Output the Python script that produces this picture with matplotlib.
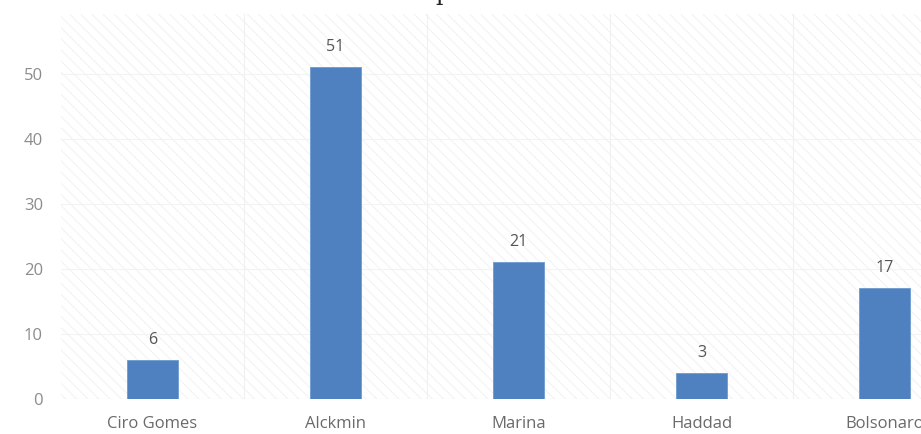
import matplotlib.pyplot as plt

plt.rcParams['hatch.linewidth'] = 0.8
plt.rcParams['hatch.color'] = '#f3f3f3'

candidates = ['Ciro Gomes', 'Alckmin', 'Marina', 'Haddad', 'Bolsonaro']
heights = [6, 51, 21, 4, 17]
value_labels = ['6', '51', '21', '3', '17']
y_ticks = [0, 10, 20, 30, 40, 50]

fig = plt.figure(figsize=(9.21, 4.34), dpi=100, facecolor='white')
ax = fig.add_axes([61 / 921, 35 / 434, 915 / 921, 385 / 434])

# excel-like striped background
ax.patch.set_facecolor('white')
ax.patch.set_hatch('\\\\\\')
ax.patch.set_edgecolor('#f3f3f3')

x = list(range(len(candidates)))
bars = ax.bar(x, heights, width=0.28, color='#4f80c0', edgecolor='#6f9ad0',
              linewidth=0.6, zorder=3)

for bar, lab in zip(bars, value_labels):
    ax.text(bar.get_x() + bar.get_width() / 2, bar.get_height() + 1.9, lab,
            ha='center', va='bottom', fontsize=11.5, color='#555555',
            family='Open Sans', zorder=4)

ax.set_xlim(-0.5, len(candidates) - 0.5)
ax.set_ylim(0, 59.2)
ax.set_yticks(y_ticks)
ax.set_xticks(x)
ax.set_xticklabels(candidates, fontsize=12, color='#6a6a6a', family='Open Sans')
ax.set_yticklabels([str(t) for t in y_ticks], fontsize=12, color='#8c8c8c',
                   family='Open Sans')
ax.tick_params(axis='both', length=0)
ax.tick_params(axis='y', pad=13)
ax.tick_params(axis='x', pad=12)

ax.set_xticks([i + 0.5 for i in x[:-1]], minor=True)
ax.tick_params(axis='x', which='minor', length=0)
ax.grid(axis='y', which='major', color='#f3f3f3', linewidth=0.8, zorder=1)
ax.grid(axis='x', which='minor', color='#f0f0f0', linewidth=0.8, zorder=1)
ax.grid(axis='x', which='major', visible=False)
ax.axhline(0, color='#eeeeee', linewidth=0.8, zorder=2)
for s in ax.spines.values():
    s.set_visible(False)

# top of the (cropped) title
fig.text(443 / 921, 1.0, 'p', ha='center', va='baseline', fontsize=17,
         family='DejaVu Serif', color='#222222')

fig.savefig('out.png', dpi=100)
